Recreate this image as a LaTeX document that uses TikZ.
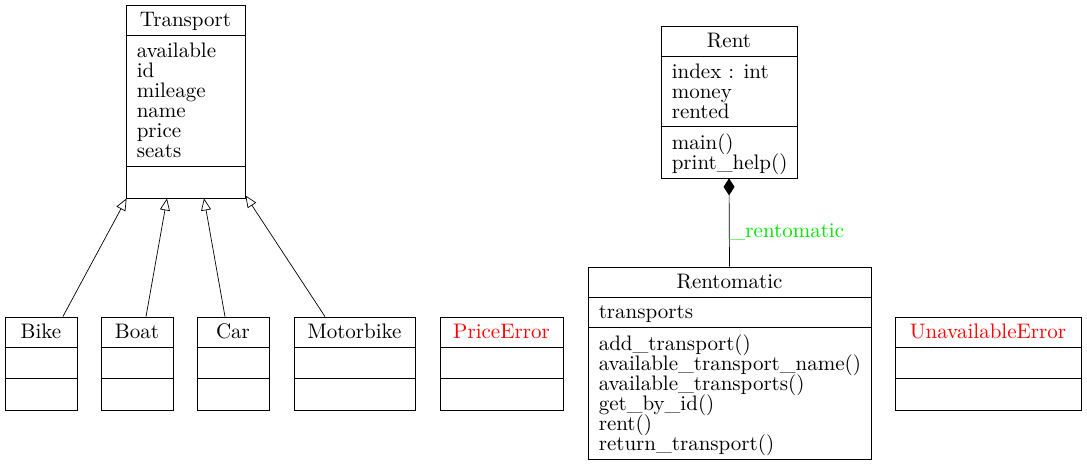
\documentclass[tikz,border=0pt]{standalone}
\usepackage{fontspec}
\setmainfont{lmroman10-regular.otf}
\usepackage{tikz}
\usetikzlibrary{arrows.meta}

\definecolor{errorred}{RGB}{255,0,0}
\definecolor{rolegreen}{RGB}{0,230,0}

\tikzset{
    every node/.style={font=\fontsize{21}{20}\selectfont},
    classbox/.style={draw=black, line width=0.8pt, inner sep=0pt},
    classname/.style={anchor=north, inner sep=0pt, yshift=-7pt, execute at begin node=\strut},
    members/.style={anchor=north west, inner sep=0pt, align=left, xshift=11pt, yshift=-7pt, execute at begin node=\strut},
    sepline/.style={line width=0.8pt},
    inherit/.style={-{Triangle[open,length=12pt,width=10pt]}, line width=0.7pt},
    compose/.style={-{Diamond[length=17pt,width=11pt]}, line width=0.7pt}
}

\begin{document}
\setlength{\lineskiplimit}{-100pt}
\begin{tikzpicture}[x=1pt, y=-1pt]
    \useasboundingbox (0,0) rectangle (1087,465);

    % Transport and its subclasses
    \node[classbox, minimum width=119pt, minimum height=193pt] (transport) at (185.5,101.5) {};
    \node[classname] (transportname) at (transport.north) {Transport};
    \node[members] (transportattrs) at ([yshift=-31pt]transport.north west) {available\\id\\mileage\\name\\price\\seats};
    \draw[sepline] ([yshift=-31pt]transport.north west) -- ([yshift=-31pt]transport.north east);
    \draw[sepline] ([yshift=-162pt]transport.north west) -- ([yshift=-162pt]transport.north east);

    \node[classbox, minimum width=72pt, minimum height=93pt] (bike) at (41,363.5) {};
    \node[classname] (bikename) at (bike.north) {Bike};
    \node[classbox, minimum width=72pt, minimum height=93pt] (boat) at (137,363.5) {};
    \node[classname] (boatname) at (boat.north) {Boat};
    \node[classbox, minimum width=72pt, minimum height=93pt] (car) at (233,363.5) {};
    \node[classname] (carname) at (car.north) {Car};
    \node[classbox, minimum width=121pt, minimum height=93pt] (motorbike) at (354.5,363.5) {};
    \node[classname] (motorbikename) at (motorbike.north) {Motorbike};
    \node[classbox, minimum width=123pt, minimum height=93pt] (priceerror) at (501.5,363.5) {};
    \node[classname, text=errorred] (priceerrorname) at (priceerror.north) {PriceError};
    \node[classbox, minimum width=186pt, minimum height=93pt] (unavailable) at (988,363.5) {};
    \node[classname, text=errorred] (unavailablename) at (unavailable.north) {UnavailableError};
    \foreach \cls in {bike, boat, car, motorbike, priceerror, unavailable} {
        \draw[sepline] ([yshift=-31pt]\cls.north west) -- ([yshift=-31pt]\cls.north east);
        \draw[sepline] ([yshift=-62pt]\cls.north west) -- ([yshift=-62pt]\cls.north east);
    }

    % Rent and Rentomatic
    \node[classbox, minimum width=136pt, minimum height=152pt] (rent) at (729,102) {};
    \node[classname] (rentname) at (rent.north) {Rent};
    \node[members] (rentattrs) at ([yshift=-31pt]rent.north west) {index : int\\money\\rented};
    \node[members] (rentops) at ([yshift=-101pt]rent.north west) {main()\\print\_help()};
    \draw[sepline] ([yshift=-31pt]rent.north west) -- ([yshift=-31pt]rent.north east);
    \draw[sepline] ([yshift=-101pt]rent.north west) -- ([yshift=-101pt]rent.north east);

    \node[classbox, minimum width=283pt, minimum height=192pt] (rentomatic) at (729.5,363) {};
    \node[classname] (rentomaticname) at (rentomatic.north) {Rentomatic};
    \node[members] (rentomaticattrs) at ([yshift=-31pt]rentomatic.north west) {transports};
    \node[members] (rentomaticops) at ([yshift=-61pt]rentomatic.north west) {add\_transport()\\available\_transport\_name()\\available\_transports()\\get\_by\_id()\\rent()\\return\_transport()};
    \draw[sepline] ([yshift=-31pt]rentomatic.north west) -- ([yshift=-31pt]rentomatic.north east);
    \draw[sepline] ([yshift=-61pt]rentomatic.north west) -- ([yshift=-61pt]rentomatic.north east);

    % connectors
    \draw[inherit] (bike.65) -- ([xshift=1pt]transport.south west);
    \draw[inherit] ([xshift=9pt]boat.north) -- ([xshift=-18.5pt]transport.south);
    \draw[inherit] ([xshift=-8pt]car.north) -- ([xshift=18.5pt]transport.south);
    \draw[inherit] ([xshift=-29.5pt]motorbike.north) -- ([yshift=3pt]transport.south east);
    \draw[compose] (rentomatic.north) -- (rent.south)
        node[pos=0.326, anchor=base west, inner sep=0pt, text=rolegreen] (rolelabel) {\_rentomatic};
\end{tikzpicture}
\end{document}
